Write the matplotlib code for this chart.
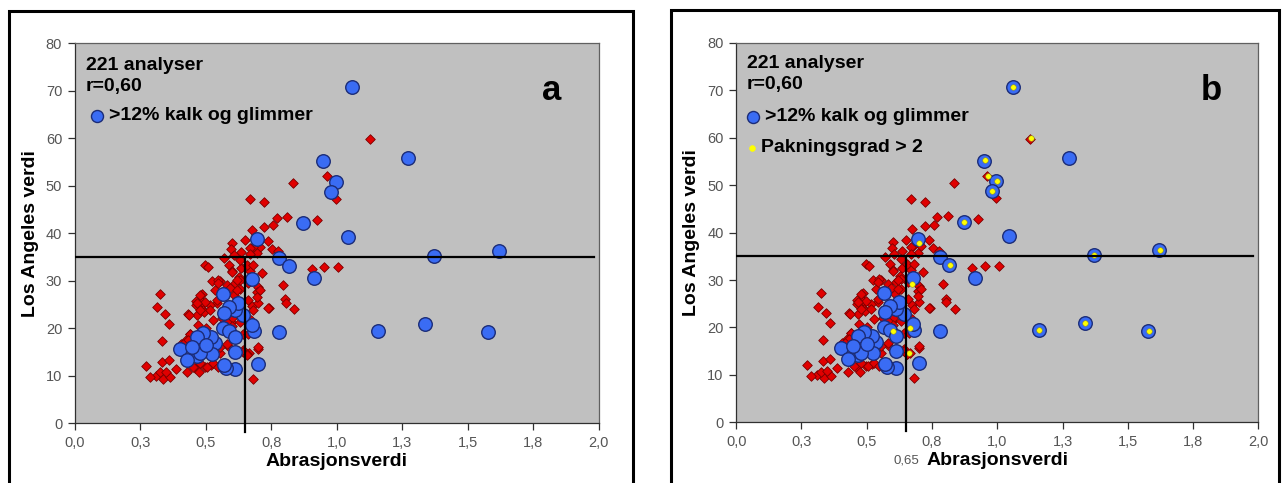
import matplotlib
matplotlib.use("Agg")
import matplotlib.pyplot as plt
from matplotlib.patches import Rectangle

# ---------------- data ----------------
red_x = [1.125, 0.962, 0.834, 0.997, 0.669, 0.723, 0.926, 0.811, 0.771, 0.756, 0.723, 0.675,
         0.739, 0.650, 0.599, 0.752, 0.707, 0.679, 0.669, 0.597, 0.634, 0.695, 0.777, 0.669,
         0.606, 0.570, 0.905, 0.952, 1.006, 0.714, 0.497, 0.510, 0.590, 0.634, 0.599, 0.668,
         0.628, 0.523, 0.555, 0.583, 0.612, 0.660, 0.701, 0.794, 0.631, 0.536, 0.695, 0.326,
         0.485, 0.561, 0.609, 0.803, 0.660, 0.463, 0.489, 0.485, 0.542, 0.516, 0.805, 0.743,
         0.838, 0.675, 0.315, 0.463, 0.491, 0.345, 0.434, 0.466, 0.494, 0.564, 0.526, 0.361,
         0.673, 0.593, 0.597, 0.472, 0.500, 0.440, 0.642, 0.332, 0.424, 0.407, 0.415, 0.587,
         0.642, 0.701, 0.556, 0.664, 0.656, 0.332, 0.361, 0.271, 0.387, 0.310, 0.287, 0.338,
         0.364, 0.326, 0.348, 0.430, 0.459, 0.476, 0.497, 0.520, 0.578, 0.682, 0.548, 0.478,
         0.497, 0.466, 0.437, 0.478, 0.516, 0.542, 0.593, 0.618, 0.599, 0.580, 0.631, 0.440,
         0.434, 0.415, 0.516, 0.555, 0.580, 0.644, 0.453, 0.478, 0.504, 0.529, 0.548, 0.656,
         0.663, 0.682, 0.701, 0.707, 0.695, 0.656, 0.631, 0.599, 0.631, 0.682, 0.620, 0.545,
         0.599, 0.738, 0.700]
red_y = [59.8, 52.0, 50.5, 47.3, 47.2, 46.5, 42.9, 43.5, 43.2, 41.7, 41.4, 40.8,
         38.4, 38.5, 38.0, 36.8, 37.2, 37.2, 37.0, 36.8, 36.1, 35.8, 36.2, 35.6,
         35.4, 34.8, 32.5, 33.0, 33.0, 31.6, 33.3, 33.0, 33.3, 32.6, 32.1, 32.1,
         30.9, 30.0, 30.0, 29.1, 29.5, 29.5, 28.8, 29.1, 28.2, 28.1, 27.7, 27.2,
         27.2, 27.7, 27.0, 26.1, 26.0, 25.8, 25.3, 25.6, 25.4, 24.9, 25.4, 24.2,
         24.0, 24.7, 24.4, 24.9, 23.9, 23.0, 23.0, 22.8, 23.4, 22.1, 21.8, 20.9,
         21.8, 21.1, 21.4, 20.8, 20.0, 18.9, 18.9, 17.4, 17.5, 16.8, 16.1, 16.1,
         15.4, 15.6, 14.7, 14.7, 14.5, 13.0, 13.3, 12.1, 11.4, 10.0, 9.7, 9.3,
         9.7, 10.7, 10.9, 10.7, 11.6, 10.7, 11.9, 12.3, 11.4, 9.3, 30.2, 27.0,
         25.6, 25.3, 22.8, 23.9, 23.9, 26.0, 28.4, 28.1, 22.1, 21.4, 21.4, 18.9,
         17.5, 16.8, 16.1, 16.1, 16.8, 15.1, 11.9, 12.6, 11.9, 12.6, 11.9, 14.4,
         18.9, 23.9, 25.3, 28.1, 26.6, 33.3, 30.2, 31.9, 34.4, 33.3, 30.1, 29.6,
         20.5, 24.2, 16.1]

blue_x = [1.059, 1.273, 0.949, 0.997, 0.978, 0.871, 1.044, 0.697, 0.780, 0.817, 1.371, 1.620,
          0.915, 0.676, 1.336, 1.159, 1.579, 0.780, 0.701, 0.613, 0.578, 0.570, 0.612, 0.683,
          0.676, 0.641, 0.611, 0.622, 0.566, 0.588, 0.570, 0.567, 0.589, 0.611, 0.537, 0.520,
          0.491, 0.468, 0.523, 0.466, 0.478, 0.402, 0.430, 0.447, 0.500]
blue_y = [70.7, 55.8, 55.2, 50.9, 48.7, 42.2, 39.3, 38.7, 34.9, 33.1, 35.2, 36.3,
          30.5, 30.4, 21.0, 19.4, 19.2, 19.2, 12.5, 11.4, 11.6, 12.3, 15.0, 19.5,
          20.7, 22.9, 23.9, 25.4, 27.2, 24.5, 23.2, 20.0, 19.4, 18.1, 17.0, 18.2,
          19.1, 18.2, 14.6, 14.2, 14.7, 15.6, 13.3, 16.1, 16.5]

yellow_x = [1.060, 1.129, 0.952, 0.965, 0.999, 0.979, 0.874, 0.700, 0.818, 1.371, 1.622,
            0.674, 0.602, 0.666, 0.661, 1.161, 1.338, 1.581]
yellow_y = [70.7, 60.0, 55.3, 52.0, 50.9, 48.7, 42.2, 37.9, 33.2, 35.2, 36.3,
            29.1, 19.3, 19.8, 14.7, 19.4, 21.0, 19.3]

x_ticks = [0.0, 0.25, 0.5, 0.75, 1.0, 1.25, 1.5, 1.75, 2.0]
x_tick_labels = ["0,0", "0,3", "0,5", "0,8", "1,0", "1,3", "1,5", "1,8", "2,0"]
y_ticks = [0, 10, 20, 30, 40, 50, 60, 70, 80]
limit_x = 0.65
limit_y = 35

# ---------------- style ----------------
W, H = 1282, 483
DPI = 100
FONT = "Liberation Sans"
BG = "#C0C0C0"
RED, RED_E = "#E00000", "#7A0000"
BLUE, BLUE_E = "#3A6CF4", "#1B2C78"
YEL, YEL_E = "#FFFF00", "#8A8A30"
TXT = 14

fig = plt.figure(figsize=(W / DPI, H / DPI), dpi=DPI)
fig.patch.set_facecolor("white")


def px_axes(l, r, t, b):
    return fig.add_axes([l / W, 1 - b / H, (r - l) / W, (b - t) / H])


def frame(l, r, t):
    fig.add_artist(Rectangle((l / W, -0.05), (r - l) / W, 1 - t / H + 0.05,
                             transform=fig.transFigure, fill=False,
                             edgecolor="black", linewidth=2.2, zorder=0))


def ax_pt(px, py, l, r, tp, bt):
    return ((px - l) / (r - l), (bt - py) / (bt - tp))


def setup(ax, panel_label, with_yellow):
    ax.set_facecolor(BG)
    ax.set_xlim(0, 2.0)
    ax.set_ylim(0, 80)
    for s in ax.spines.values():
        s.set_color("#606060")
        s.set_linewidth(0.9)
    ax.spines["left"].set_color("#303030")
    ax.spines["bottom"].set_color("#303030")
    ax.set_xticks(x_ticks)
    ax.set_xticklabels(x_tick_labels)
    ax.set_yticks(y_ticks)
    ax.tick_params(axis="both", direction="out", length=5, width=0.9, color="#303030",
                   labelsize=10.5, labelcolor="#555555", pad=4)
    for lab in ax.get_xticklabels() + ax.get_yticklabels():
        lab.set_family(FONT)
    ax.set_xlabel("Abrasjonsverdi", fontsize=14, fontweight="bold", family=FONT, labelpad=2)
    ax.set_ylabel("Los Angeles verdi", fontsize=14, fontweight="bold", family=FONT, labelpad=5)

    ax.scatter(red_x, red_y, marker="D", s=24, c=RED, edgecolors=RED_E, linewidths=0.6, zorder=3)
    ax.scatter(blue_x, blue_y, marker="o", s=95, c=BLUE, edgecolors=BLUE_E, linewidths=1.0, zorder=4)
    if with_yellow:
        ax.scatter(yellow_x, yellow_y, marker="o", s=16, c=YEL, edgecolors=YEL_E,
                   linewidths=0.4, zorder=5)

    ax.plot([0, 1.98], [limit_y, limit_y], color="black", lw=1.6, zorder=6)
    ax.plot([limit_x, limit_x], [-1.8, limit_y], color="black", lw=1.6, zorder=6, clip_on=False)

    ax.text(0.91, 0.875, panel_label, transform=ax.transAxes, fontsize=25, fontweight="bold",
            family=FONT, ha="center", va="center")


def annotate(ax, box, tx, ty_lines, leg_x, leg_txt_x, with_yellow):
    t = ax.transAxes
    ax.text(*ax_pt(tx, ty_lines[0], *box), "221 analyser", transform=t, fontsize=TXT,
            fontweight="bold", family=FONT, va="center", ha="left")
    ax.text(*ax_pt(tx, ty_lines[1], *box), "r=0,60", transform=t, fontsize=TXT,
            fontweight="bold", family=FONT, va="center", ha="left")
    ax.scatter(*ax_pt(leg_x, ty_lines[2], *box), transform=t, marker="o", s=75, c=BLUE,
               edgecolors=BLUE_E, linewidths=1.0, zorder=7, clip_on=False)
    ax.text(*ax_pt(leg_txt_x, ty_lines[2], *box), ">12% kalk og glimmer", transform=t,
            fontsize=TXT, fontweight="bold", family=FONT, va="center", ha="left")
    if with_yellow:
        ax.scatter(*ax_pt(leg_x - 1, ty_lines[3], *box), transform=t, marker="o", s=18, c=YEL,
                   edgecolors=YEL, linewidths=0.4, zorder=7, clip_on=False)
        ax.text(*ax_pt(leg_txt_x - 4, ty_lines[3], *box), "Pakningsgrad > 2", transform=t,
                fontsize=TXT, fontweight="bold", family=FONT, va="center", ha="left")


# ---- panel a ----
frame(9, 633, 11)
A = (74.7, 598.8, 43.3, 423.3)
ax1 = px_axes(*A)
setup(ax1, "a", False)
annotate(ax1, A, 86, [65, 87, 116], 96.7, 109, False)

# ---- panel b ----
frame(671, 1279, 10)
B = (736.2, 1258.3, 43.0, 422.3)
ax2 = px_axes(*B)
setup(ax2, "b", True)
annotate(ax2, B, 747, [63, 84, 116.5, 147.5], 752.6, 765, True)
ax2.text(limit_x, -8.0, "0,65", fontsize=9.5, color="#555555", family=FONT,
         ha="center", va="center", clip_on=False)

fig.savefig("out.png", dpi=DPI, facecolor="white")
